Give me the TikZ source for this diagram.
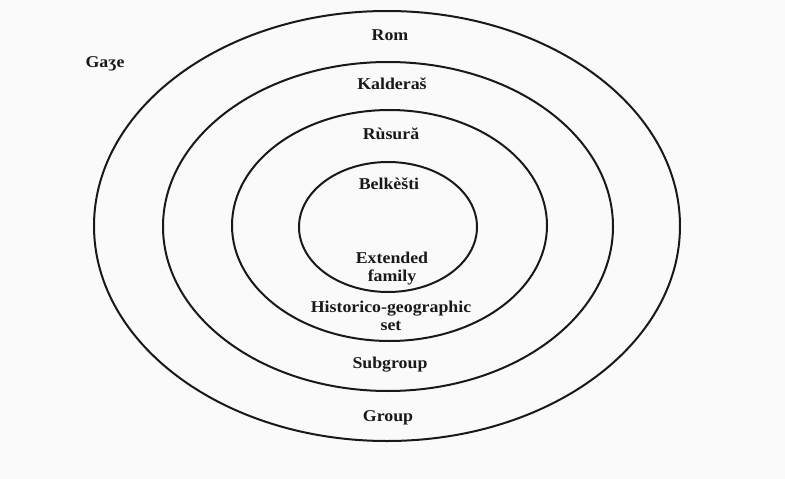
\documentclass[tikz,border=0pt]{standalone}
\usepackage{fontspec}
\setmainfont{Liberation Serif}[FakeStretch=1.08]
\begin{document}
\begin{tikzpicture}[x=1pt,y=-1pt,
  ring/.style={line width=2pt,black!90},
  lbl/.style={font=\fontsize{16.5}{18}\selectfont\bfseries,text=black!90,inner sep=0pt,align=center}]
\fill[black!2] (0,0) rectangle (785,479);
\useasboundingbox (0,0) rectangle (785,479);
\draw[ring] (387,226) ellipse [x radius=293,y radius=215];
\draw[ring] (388,226.5) ellipse [x radius=225,y radius=164.5];
\draw[ring] (389.5,225.5) ellipse [x radius=157.5,y radius=115.5];
\draw[ring] (388,227) ellipse [x radius=89,y radius=65];
\node[lbl] (gaze) at (105,64) {Gaʒe};
\node[lbl] (rom) at (390,35) {Rom};
\node[lbl] (kald) at (392,84) {Kalderaš};
\node[lbl] (rusura) at (391,134) {Rùsură};
\node[lbl] (belk) at (389,184) {Belkèšti};
\node[lbl,font=\fontsize{16.5}{18}\selectfont\bfseries] (ext) at (392,269) {Extended\\family};
\node[lbl,font=\fontsize{16.5}{18}\selectfont\bfseries] (hist) at (391,316) {Historico-geographic\\set};
\node[lbl] (sub) at (390,365) {Subgroup};
\node[lbl] (grp) at (388,418) {Group};
\end{tikzpicture}
\end{document}
